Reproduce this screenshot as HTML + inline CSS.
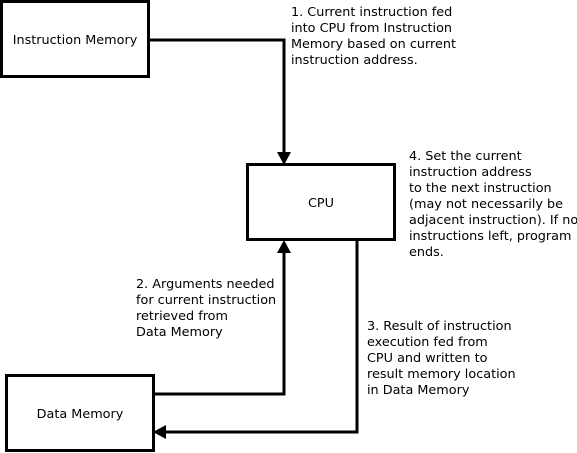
<!DOCTYPE html>
<html><head><meta charset="utf-8"><style>
html,body{margin:0;padding:0;background:#fff;}
svg{display:block;}
text{font-family:"DejaVu Sans","Liberation Sans",sans-serif;font-size:12.8px;fill:#000;}
</style></head><body>
<svg width="577" height="453" viewBox="0 0 577 453" xmlns="http://www.w3.org/2000/svg">
<rect x="1.5" y="1.5" width="147" height="75" fill="#fff" stroke="#000" stroke-width="3"/>
<text x="75" y="44" text-anchor="middle">Instruction Memory</text>
<rect x="247.5" y="164.5" width="147" height="75" fill="#fff" stroke="#000" stroke-width="3"/>
<text x="321" y="207" text-anchor="middle">CPU</text>
<rect x="6.5" y="375.5" width="147" height="75" fill="#fff" stroke="#000" stroke-width="3"/>
<text x="80" y="418" text-anchor="middle">Data Memory</text>

<polyline points="149,40 284,40 284,153" fill="none" stroke="#000" stroke-width="3"/>
<polygon points="277,152 291,152 284,165" fill="#000"/>
<polyline points="154,394 284,394 284,252" fill="none" stroke="#000" stroke-width="3"/>
<polygon points="277,253 291,253 284,240" fill="#000"/>
<polyline points="357,240 357,432 165,432" fill="none" stroke="#000" stroke-width="3"/>
<polygon points="166,425 166,439 153,432" fill="#000"/>

<text x="291" y="16">1. Current instruction fed</text>
<text x="291" y="32">into CPU from Instruction</text>
<text x="291" y="48">Memory based on current</text>
<text x="291" y="64">instruction address.</text>

<text x="409" y="160">4. Set the current</text>
<text x="409" y="176">instruction address</text>
<text x="409" y="192">to the next instruction</text>
<text x="409" y="208">(may not necessarily be</text>
<text x="409" y="224">adjacent instruction). If no</text>
<text x="409" y="240">instructions left, program</text>
<text x="409" y="256">ends.</text>

<text x="136" y="288">2. Arguments needed</text>
<text x="136" y="304">for current instruction</text>
<text x="136" y="320">retrieved from</text>
<text x="136" y="336">Data Memory</text>

<text x="367" y="330">3. Result of instruction</text>
<text x="367" y="346">execution fed from</text>
<text x="367" y="362">CPU and written to</text>
<text x="367" y="378">result memory location</text>
<text x="367" y="394">in Data Memory</text>
</svg>
</body></html>
